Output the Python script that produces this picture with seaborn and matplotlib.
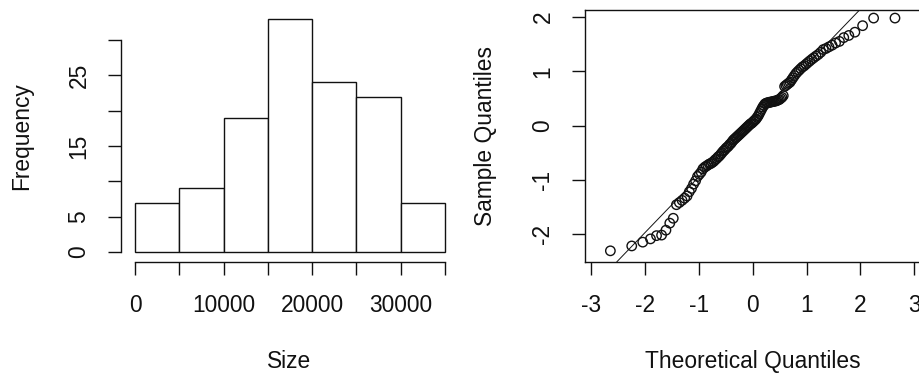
import matplotlib
matplotlib.use("Agg")
import matplotlib.pyplot as plt
import seaborn as sns
import numpy as np
from statistics import NormalDist

# ---------------- data ----------------
bin_edges = [0, 5000, 10000, 15000, 20000, 25000, 30000, 35000]
bin_counts = [7, 9, 19, 33, 24, 22, 7]
hist_xticks = [0, 5000, 10000, 15000, 20000, 25000, 30000, 35000]
hist_xlabels = ["0", "", "10000", "", "20000", "", "30000", ""]
hist_yticks = [0, 5, 10, 15, 20, 25, 30]
hist_ylabels = ["0", "5", "", "15", "", "25", ""]

sample_lower = [
    -2.31, -2.22, -2.15, -2.09, -2.03, -2.02, -1.93, -1.80, -1.71, -1.46,
    -1.42, -1.38, -1.34, -1.30, -1.22, -1.16, -1.08, -1.02, -0.94, -0.90,
    -0.86, -0.80, -0.77, -0.75, -0.73, -0.71, -0.70, -0.68, -0.66, -0.63,
    -0.61, -0.58, -0.56, -0.53, -0.50, -0.47, -0.45, -0.42, -0.40, -0.38,
    -0.35, -0.33, -0.30, -0.27, -0.25, -0.23, -0.21, -0.19, -0.17, -0.15,
    -0.13, -0.11, -0.09, -0.07, -0.05, -0.03, -0.01, 0.01, 0.03, 0.04,
    0.06,
]
sample_upper = [
    0.08, 0.10, 0.12, 0.15, 0.18, 0.22, 0.26, 0.30, 0.34, 0.37,
    0.40, 0.41, 0.42, 0.42, 0.43, 0.43, 0.44, 0.44, 0.45, 0.45,
    0.46, 0.47, 0.48, 0.50, 0.52, 0.55, 0.72, 0.74, 0.76, 0.78,
    0.80, 0.84, 0.88, 0.92, 0.96, 0.99, 1.02, 1.05, 1.08, 1.10,
    1.13, 1.16, 1.19, 1.22, 1.25, 1.28, 1.31, 1.35, 1.40, 1.42,
    1.45, 1.48, 1.52, 1.55, 1.62, 1.66, 1.72, 1.84, 1.98, 1.98,
]
qq_xticks = [-3, -2, -1, 0, 1, 2, 3]
qq_yticks = [-2, -1, 0, 1, 2]

# ---------------- style ----------------
sns.set_style("ticks")
plt.rcParams['font.family'] = ['Liberation Sans', 'DejaVu Sans']
FS = 16.4
INK = "#111111"

fig = plt.figure(figsize=(9.2, 3.77), dpi=100)
W, H = 920.0, 377.0

def axes_px(x0, y_top, w, h):
    return fig.add_axes([x0 / W, 1 - (y_top + h) / H, w / W, h / H])

ax1 = axes_px(121, 10, 336, 252)
ax2 = axes_px(585, 10, 336, 252)

# ---------------- histogram ----------------
centers = [(a + b) / 2 for a, b in zip(bin_edges[:-1], bin_edges[1:])]
sns.histplot(x=centers, weights=bin_counts, bins=bin_edges, ax=ax1,
             color="white", edgecolor=INK, linewidth=1.0, alpha=1.0)
ax1.set_xlim(-1581, 36355)
ax1.set_ylim(-1.415, 34.25)
ax1.set_xticks(hist_xticks)
ax1.set_xticklabels(hist_xlabels)
ax1.set_yticks(hist_yticks)
ax1.set_yticklabels(hist_ylabels)
for s in ("top", "right"):
    ax1.spines[s].set_visible(False)
ax1.spines["left"].set_bounds(hist_yticks[0], hist_yticks[-1])
ax1.spines["bottom"].set_bounds(hist_xticks[0], hist_xticks[-1])
ax1.set_xlabel("Size", fontsize=FS, color=INK)
ax1.set_ylabel("Frequency", fontsize=FS, color=INK)

# ---------------- QQ plot ----------------
sample = np.array(sample_lower + sample_upper)
n = len(sample)
nd = NormalDist()
theo = np.array([nd.inv_cdf((i + 0.5) / n) for i in range(n)])
sns.scatterplot(x=theo, y=sample, ax=ax2, s=46, marker="o", linewidth=1.0)
coll = ax2.collections[0]
coll.set_facecolor("none")
coll.set_edgecolor(INK)

yq = np.quantile(sample, [0.25, 0.75])
xq = np.array([nd.inv_cdf(0.25), nd.inv_cdf(0.75)])
slope = (yq[1] - yq[0]) / (xq[1] - xq[0])
intercept = yq[0] - slope * xq[0]
ax2.axline((0, intercept), slope=slope, color=INK, linewidth=0.7)

ax2.set_xlim(-3.112, 3.124)
ax2.set_ylim(-2.516, 2.129)
ax2.set_xticks(qq_xticks)
ax2.set_xticklabels([str(v) for v in qq_xticks])
ax2.set_yticks(qq_yticks)
ax2.set_yticklabels([str(v) for v in qq_yticks])
ax2.set_xlabel("Theoretical Quantiles", fontsize=FS, color=INK)
ax2.set_ylabel("Sample Quantiles", fontsize=FS, color=INK)

for ax in (ax1, ax2):
    ax.grid(False)
    for sp in ax.spines.values():
        sp.set_linewidth(1.0)
        sp.set_color(INK)
    ax.tick_params(axis="both", direction="out", length=9.5, width=1.0,
                   color=INK, labelsize=FS, labelcolor=INK)
    ax.tick_params(axis="x", pad=13.5)
    ax.tick_params(axis="y", pad=12.5)
    for lab in ax.get_yticklabels():
        lab.set_rotation(90)
        lab.set_va("center")
    ax.xaxis.set_label_coords(0.5, -0.348)

ax1.yaxis.set_label_coords((33.3 - 121) / 336, 0.5)
ax2.yaxis.set_label_coords((496.7 - 585) / 336, 0.5)

fig.savefig("out.png", dpi=100, facecolor="white")
